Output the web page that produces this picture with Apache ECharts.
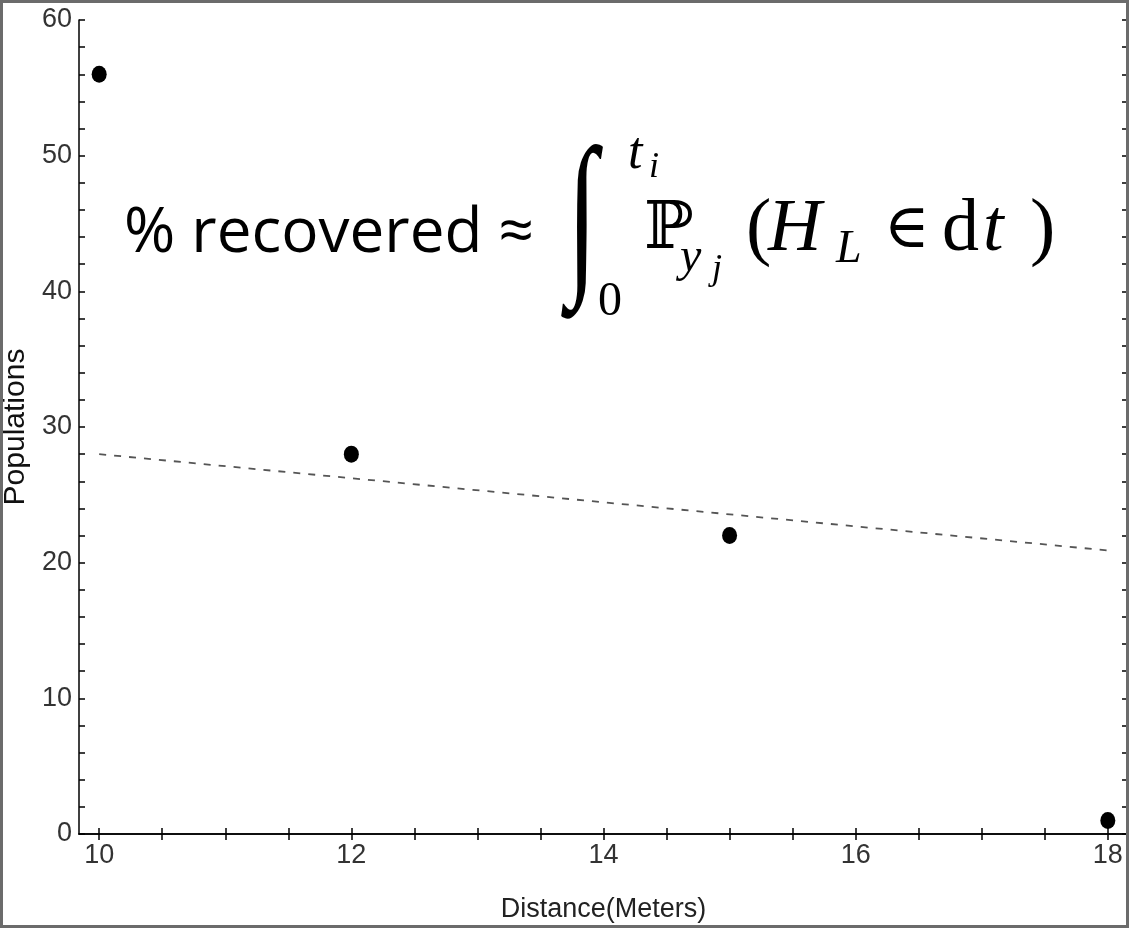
<!DOCTYPE html>
<html>
<head>
<meta charset="utf-8">
<script src="https://cdn.jsdelivr.net/npm/echarts@6/dist/echarts.min.js"></script>
<style>
  html, body { margin: 0; padding: 0; background: #fff; }
  #main { width: 1129px; height: 928px; }
</style>
</head>
<body>
<div id="main"></div>
<script type="text/javascript">
// data
var distances = [10, 12, 15, 18];
var populations = [56, 28, 22, 1];
var fitLine = [[10, 28], [18, 20.9]]; // dashed trend line endpoints

var xTickValues = [10, 10.5, 11, 11.5, 12, 12.5, 13, 13.5, 14, 14.5, 15, 15.5, 16, 16.5, 17, 17.5, 18];
var xLabelValues = [10, 12, 14, 16, 18];
var yTickValues = [0, 2, 4, 6, 8, 10, 12, 14, 16, 18, 20, 22, 24, 26, 28, 30, 32, 34, 36, 38, 40, 42, 44, 46, 48, 50, 52, 54, 56, 58, 60];
var yLabelValues = [0, 10, 20, 30, 40, 50, 60];

var labelFont = "'Liberation Sans', Arial, sans-serif";
var mathFont = "'Liberation Serif', 'DejaVu Serif', serif";

var chart = echarts.init(document.getElementById("main"));

// formula overlay, pieces placed by hand (text only)
function txt(s, x, y, size, family, style, align) {
  return {
    type: "text",
    z: 100,
    style: {
      text: s,
      x: x,
      y: y,
      fill: "#000",
      font: (style || "normal") + " " + size + "px " + family,
      align: align || "left",
      verticalAlign: "middle"
    }
  };
}

// the integral sign is thinner than the font's, so squeeze it
var integral = txt("\u222B", 582, 224, 178, mathFont, "normal", "center");
integral.scaleX = 0.62;
integral.originX = 582;
integral.originY = 224;

var formula = [
  txt("% recovered \u2248", 124, 234, 62, "'Open Sans', sans-serif"),
  integral,
  txt("t", 628, 154, 52, mathFont, "italic"),
  txt("i", 649, 168, 36, mathFont, "italic"),
  txt("0", 598, 302, 48, mathFont),
  txt("\u2119", 644, 231, 66, "'DejaVu Serif', 'DejaVu Sans', serif"),
  txt("y", 680, 258, 48, mathFont, "italic"),
  txt("j", 712, 270, 36, mathFont, "italic"),
  txt("(", 746, 231, 76, mathFont),
  txt("H", 768, 231, 74, mathFont, "italic"),
  txt("L", 836, 250, 46, mathFont, "italic"),
  txt("\u2208", 884, 231, 62, "'DejaVu Serif', serif"),
  txt("d", 942, 231, 74, mathFont),
  txt("t", 983, 231, 74, mathFont, "italic"),
  txt(")", 1030, 231, 76, mathFont)
];

var option = {
  backgroundColor: "#fff",
  animation: false,
  grid: {
    left: 79,
    right: 1,
    top: 20,
    bottom: 94,
    outerBoundsMode: "none"
  },
  graphic: [
    {
      type: "rect",
      z: 90,
      shape: { x: 1.5, y: 1.5, width: 1126, height: 925 },
      style: { fill: "none", stroke: "#6b6b6b", lineWidth: 3 }
    }
  ].concat(formula),
  xAxis: [
    {
      type: "value",
      position: "bottom",
      min: 9.84,
      max: 18.16,
      axisLine: { lineStyle: { color: "#000", width: 1.5 } },
      axisTick: {
        inside: true,
        length: 6,
        customValues: xTickValues,
        lineStyle: { color: "#000", width: 1.5 }
      },
      axisLabel: {
        customValues: xLabelValues,
        fontFamily: labelFont,
        fontSize: 27,
        color: "#333",
        margin: 8
      },
      splitLine: { show: false },
      name: "Distance(Meters)",
      nameLocation: "middle",
      nameGap: 62,
      nameTextStyle: {
        fontFamily: labelFont,
        fontSize: 27,
        color: "#222"
      }
    },
    {
      type: "value",
      position: "top",
      min: 9.84,
      max: 18.16,
      axisLine: { lineStyle: { color: "#000", width: 1.5 } },
      axisTick: {
        inside: true,
        length: 6,
        customValues: xTickValues,
        lineStyle: { color: "#000", width: 1.5 }
      },
      axisLabel: { show: false },
      splitLine: { show: false }
    }
  ],
  yAxis: [
    {
      type: "value",
      position: "left",
      min: 0,
      max: 60,
      axisLine: { show: true, lineStyle: { color: "#000", width: 1.5 } },
      axisTick: {
        show: true,
        inside: true,
        length: 6,
        customValues: yTickValues,
        lineStyle: { color: "#000", width: 1.5 }
      },
      axisLabel: {
        customValues: yLabelValues,
        fontFamily: labelFont,
        fontSize: 27,
        color: "#333",
        margin: 7
      },
      splitLine: { show: false },
      name: "Populations",
      nameLocation: "middle",
      nameGap: 48,
      nameTextStyle: {
        fontFamily: labelFont,
        fontSize: 30,
        color: "#111"
      }
    },
    {
      type: "value",
      position: "right",
      min: 0,
      max: 60,
      axisLine: { show: true, lineStyle: { color: "#000", width: 1.5 } },
      axisTick: {
        show: true,
        inside: true,
        length: 6,
        customValues: yTickValues,
        lineStyle: { color: "#000", width: 1.5 }
      },
      axisLabel: { show: false },
      splitLine: { show: false }
    }
  ],
  series: [
    {
      name: "fit",
      type: "line",
      xAxisIndex: 0,
      yAxisIndex: 0,
      showSymbol: false,
      silent: true,
      lineStyle: { color: "#555", width: 1.8, type: [7, 8] },
      data: fitLine
    },
    {
      name: "populations",
      type: "scatter",
      xAxisIndex: 0,
      yAxisIndex: 0,
      symbol: "circle",
      symbolSize: [15, 17],
      itemStyle: { color: "#000", opacity: 1 },
      data: distances.map(function(d, i) {
        return [d, populations[i]];
      })
    }
  ]
};

chart.setOption(option);
</script>
</body>
</html>
